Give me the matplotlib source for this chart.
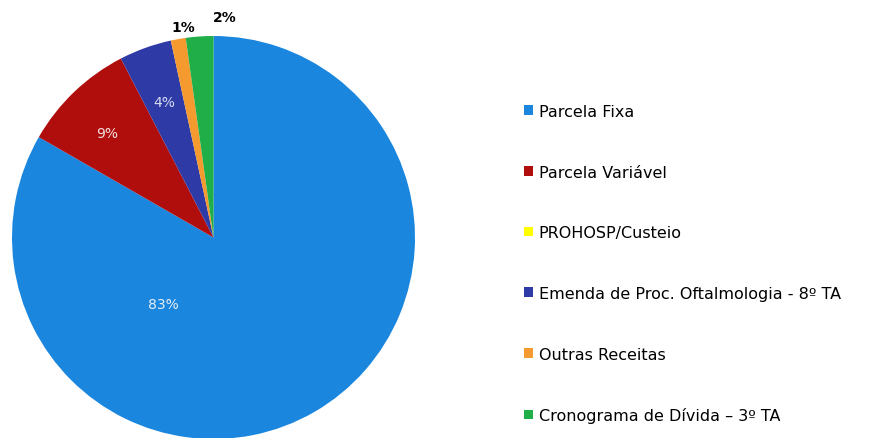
import matplotlib
matplotlib.use("Agg")
import matplotlib.pyplot as plt
from matplotlib.patches import Patch

categories = ["Parcela Fixa", "Parcela Variável", "PROHOSP/Custeio",
              "Emenda de Proc. Oftalmologia - 8º TA", "Outras Receitas",
              "Cronograma de Dívida – 3º TA"]
values = [83.3, 9.1, 0.0, 4.2, 1.2, 2.2]
pct_labels = ["83%", "9%", "", "4%", "1%", "2%"]
colors = ["#1A86DE", "#B00D0D", "#FFFF00", "#2E3AA6", "#F59A2E", "#1FAE48"]

# label layout (x, y in pie-radius units), colour, weight
label_pos = [(-0.25, -0.33), (-0.53, 0.52), (0, 0), (-0.245, 0.67), (-0.15, 1.045), (0.055, 1.095)]
label_col = ["#E6EEF6", "#F2E0E0", "black", "#D8DCF2", "black", "black"]
label_wt = ["normal", "normal", "normal", "normal", "bold", "bold"]

fig = plt.figure(figsize=(8.83, 4.39), dpi=100)
ax = fig.add_axes([12/883, -1/439, 403/883, 403/439])
ax.pie(values, colors=colors, startangle=90, counterclock=False, radius=1.0,
       wedgeprops=dict(linewidth=0))
ax.set_xlim(-1, 1)
ax.set_ylim(-1, 1)
ax.set_aspect("equal")
for lab, (x, y), c, w in zip(pct_labels, label_pos, label_col, label_wt):
    if lab:
        ax.text(x, y, lab, ha="center", va="center", color=c, fontsize=10,
                fontweight=w, clip_on=False)

handles = [Patch(facecolor=c, edgecolor="none") for c in colors]
leg = fig.legend(handles, categories, loc="upper left", bbox_to_anchor=(518/883, 1 - 98.5/439),
                 frameon=False, fontsize=11.5, labelspacing=2.86, handlelength=0.55,
                 handleheight=0.55, handletextpad=0.35, borderaxespad=0)
fig.savefig("out.png", dpi=100)
